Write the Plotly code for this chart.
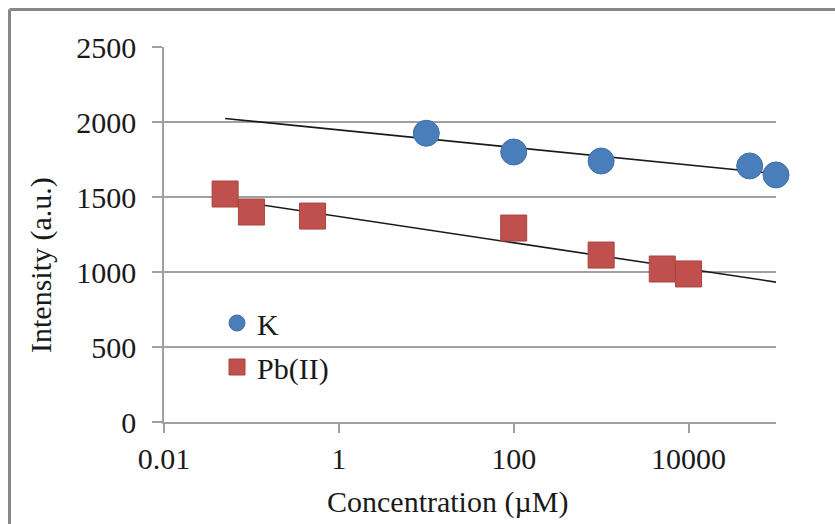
import numpy as np
import plotly.graph_objects as go

# ---- data ----
k_conc = [10, 100, 1000, 50000, 100000]
k_int = [1925, 1800, 1740, 1707, 1647]

pb_conc = [0.05, 0.1, 0.5, 100, 1000, 5000, 10000]
pb_int = [1520, 1400, 1373, 1293, 1113, 1020, 987]

x_tickvals = [0.01, 1, 100, 10000]
x_ticktext = ["0.01", "1", "100", "10000"]
y_tickvals = [0, 500, 1000, 1500, 2000, 2500]

FONT = "Liberation Serif"
FS = 30

# plot area in pixels
W, H = 835, 524
L, R, T, B = 164, 776, 47, 422


def logfit(xs, ys, x_span):
    lx = np.log10(np.asarray(xs, dtype=float))
    b, a = np.polyfit(lx, np.asarray(ys, dtype=float), 1)
    xx = np.logspace(np.log10(x_span[0]), np.log10(x_span[1]), 50)
    return xx, a + b * np.log10(xx)


span = (min(k_conc + pb_conc), max(k_conc + pb_conc))
k_tx, k_ty = logfit(k_conc, k_int, span)
pb_tx, pb_ty = logfit(pb_conc, pb_int, span)

fig = go.Figure()

fig.add_trace(go.Scatter(
    x=k_tx, y=k_ty, mode="lines", line=dict(color="#1a1a1a", width=1.6),
    showlegend=False, hoverinfo="skip"))
fig.add_trace(go.Scatter(
    x=pb_tx, y=pb_ty, mode="lines", line=dict(color="#1a1a1a", width=1.6),
    showlegend=False, hoverinfo="skip"))

fig.add_trace(go.Scatter(
    x=k_conc, y=k_int, mode="markers", name="K", legendgroup="k",
    cliponaxis=False,
    marker=dict(symbol="circle", size=26, color="#4a7ebb",
                line=dict(color="#3f6fa6", width=1))))
fig.add_trace(go.Scatter(
    x=pb_conc, y=pb_int, mode="markers", name="Pb(II)", legendgroup="pb",
    cliponaxis=False,
    marker=dict(symbol="square", size=26, color="#c0504d",
                line=dict(color="#a8423f", width=1))))


def px(x):
    return (x - L) / (R - L)


def py(y):
    return (B - y) / (B - T)


fig.update_layout(
    width=W, height=H,
    margin=dict(l=L, r=W - R, t=T, b=H - B),
    paper_bgcolor="white", plot_bgcolor="white",
    font=dict(family=FONT, size=FS, color="#1a1a1a"),
    showlegend=True,
    legend=dict(x=px(217), y=py(297), xanchor="left", yanchor="top",
                bgcolor="rgba(0,0,0,0)", font=dict(family=FONT, size=FS),
                traceorder="grouped", tracegroupgap=2, itemsizing="trace"),
    xaxis=dict(type="log", range=[-2, 5], tickvals=x_tickvals, ticktext=x_ticktext,
               showgrid=False, zeroline=False, showline=True, linecolor="#a0a0a0",
               linewidth=2, ticks="outside", ticklen=9, tickcolor="#a0a0a0",
               tickwidth=1.5, tickfont=dict(family=FONT, size=FS)),
    yaxis=dict(range=[0, 2500], tickvals=y_tickvals, showgrid=True,
               gridcolor="#a0a0a0", gridwidth=2, zeroline=False, showline=True,
               linecolor="#a0a0a0", linewidth=1.5, ticks="outside", ticklen=10,
               tickcolor="#a0a0a0", tickwidth=2, ticklabelstandoff=10,
               tickfont=dict(family=FONT, size=FS)),
    annotations=[
        dict(text="Concentration (µM)", xref="paper", yref="paper",
             x=px(447), y=py(502), xanchor="center", yanchor="middle",
             showarrow=False, font=dict(family=FONT, size=FS)),
        dict(text="Intensity (a.u.)", xref="paper", yref="paper",
             x=px(41), y=py(265), xanchor="center", yanchor="middle",
             textangle=-90, showarrow=False, font=dict(family=FONT, size=FS)),
    ],
    shapes=[
        dict(type="line", xref="paper", yref="paper", x0=px(9.5), x1=px(835),
             y0=py(9.5), y1=py(9.5), line=dict(color="#888888", width=3)),
        dict(type="line", xref="paper", yref="paper", x0=px(9.5), x1=px(9.5),
             y0=py(9.5), y1=py(524), line=dict(color="#888888", width=3)),
    ],
)

fig.write_html("out.html")
